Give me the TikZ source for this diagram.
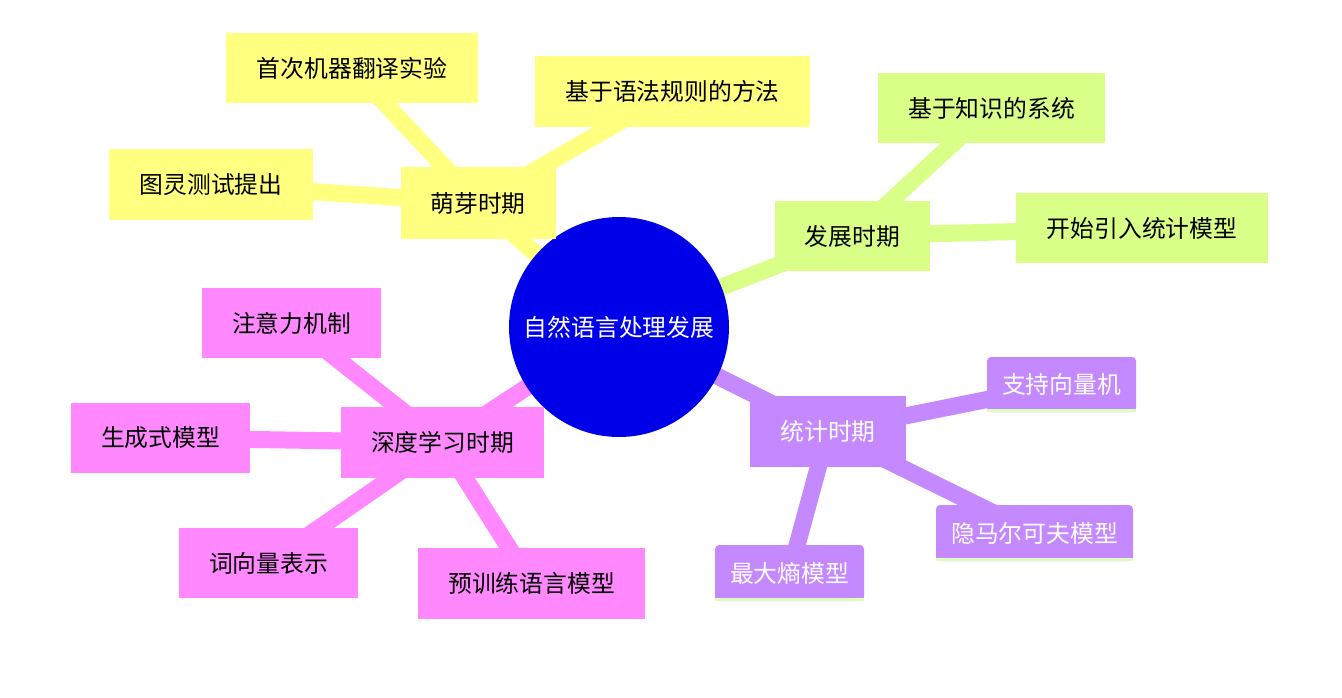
\documentclass[tikz,border=0pt]{standalone}
\usepackage{fontspec}
\setmainfont{Noto Sans CJK SC}
\usetikzlibrary{backgrounds}
\definecolor{cyel}{HTML}{FFFF80}
\definecolor{cgrn}{HTML}{DAFF88}
\definecolor{cpur}{HTML}{C488FF}
\definecolor{cpnk}{HTML}{FF88FF}
\definecolor{cblu}{HTML}{0000E8}
\definecolor{cstrip}{HTML}{DDFFBB}
\newcommand{\mmfont}{\fontsize{11.9pt}{14pt}\selectfont}
\tikzset{
  box/.style={inner sep=0pt, font=\mmfont, text=black, anchor=center},
  ybox/.style={box, fill=cyel},
  gbox/.style={box, fill=cgrn},
  pbox/.style={box, fill=cpnk},
  ubox/.style={box, fill=cpur, text=white},
  uleaf/.style={box, fill=cpur, text=white, rounded corners=2pt},
  rootnode/.style={circle, fill=cblu, text=white, inner sep=0pt, minimum size=110pt, font=\mmfont},
  conn/.style={line width=8.5pt},
  ycon/.style={conn, draw=cyel},
  gcon/.style={conn, draw=cgrn},
  pcon/.style={conn, draw=cpnk},
  ucon/.style={conn, draw=cpur},
  strip/.style={fill=cstrip},
}
\begin{document}
\begin{tikzpicture}[x=0.5pt, y=-0.5pt]
\useasboundingbox (0,0) rectangle (1342,697);
% root
\node[rootnode] (root) at (619,327) {自然语言处理发展};
% branch 1
\node[ybox, minimum width=77.5pt, minimum height=36pt] (b1) at (478,203) {萌芽时期};
\node[ybox, minimum width=126pt, minimum height=35pt] (l11) at (352,68) {首次机器翻译实验};
\node[ybox, minimum width=137.5pt, minimum height=35.5pt] (l12) at (672.5,91.5) {基于语法规则的方法};
\node[ybox, minimum width=102pt, minimum height=35.5pt] (l13) at (211,184.5) {图灵测试提出};
% branch 2
\node[gbox, minimum width=77.5pt, minimum height=35pt] (b2) at (852.5,236) {发展时期};
\node[gbox, minimum width=113.5pt, minimum height=35pt] (l21) at (991.5,108) {基于知识的系统};
\node[gbox, minimum width=126pt, minimum height=35pt] (l22) at (1142,228) {开始引入统计模型};
% branch 3
\node[ubox, minimum width=78pt, minimum height=35.5pt] (b3) at (828,431.5) {统计时期};
\node[uleaf, minimum width=74.5pt, minimum height=27.5pt] (l31) at (1061.5,384.5) {支持向量机};
\node[uleaf, minimum width=98.5pt, minimum height=28pt] (l32) at (1034.5,533) {隐马尔可夫模型};
\node[uleaf, minimum width=74.5pt, minimum height=28pt] (l33) at (789.5,573) {最大熵模型};
\foreach \n in {l31,l32,l33}{
  \fill[strip] (\n.south west) rectangle ([yshift=1.6pt]\n.south east);
}
% branch 4
\node[pbox, minimum width=101.5pt, minimum height=35.5pt] (b4) at (442.5,442.5) {深度学习时期};
\node[pbox, minimum width=89.5pt, minimum height=35pt] (l41) at (291.5,323) {注意力机制};
\node[pbox, minimum width=89.5pt, minimum height=35pt] (l42) at (160.5,438) {生成式模型};
\node[pbox, minimum width=89.5pt, minimum height=35pt] (l43) at (268.5,563) {词向量表示};
\node[pbox, minimum width=113.5pt, minimum height=35.5pt] (l44) at (531.5,583.5) {预训练语言模型};
% connectors
\begin{scope}[on background layer]
\draw[ycon] (root.center) -- (b1.center);
\draw[ycon] (b1.center) -- (l11.center);
\draw[ycon] (b1.center) -- (l12.center);
\draw[ycon] (b1.center) -- (l13.center);
\draw[gcon] (root.center) -- (b2.center);
\draw[gcon] (b2.center) -- (l21.center);
\draw[gcon] (b2.center) -- (l22.center);
\draw[ucon] (root.center) -- (b3.center);
\draw[ucon] (b3.center) -- (l31.center);
\draw[ucon] (b3.center) -- (l32.center);
\draw[ucon] (b3.center) -- (l33.center);
\draw[pcon] (root.center) -- (b4.center);
\draw[pcon] (b4.center) -- (l41.center);
\draw[pcon] (b4.center) -- (l42.center);
\draw[pcon] (b4.center) -- (l43.center);
\draw[pcon] (b4.center) -- (l44.center);
\end{scope}
\end{tikzpicture}
\end{document}
